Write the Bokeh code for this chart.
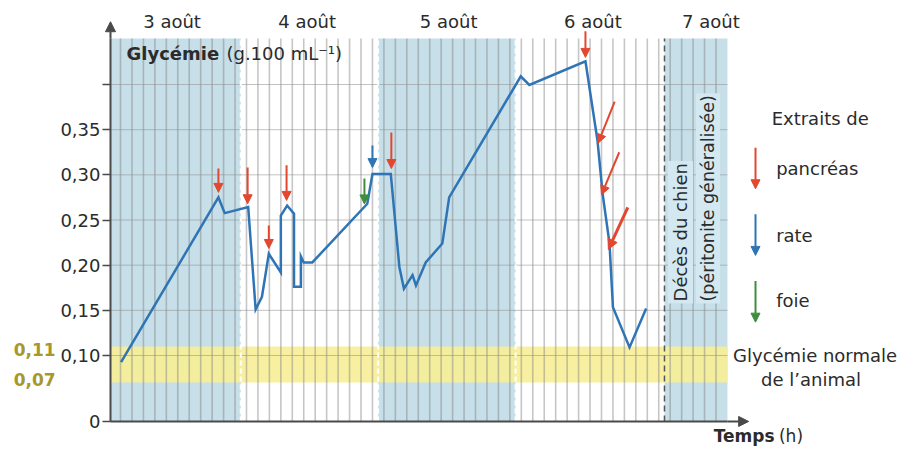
import math
from bokeh.plotting import figure
from bokeh.models import (Range1d, FixedTicker, CustomJSTickFormatter, Label, Arrow,
                          NormalHead, ColumnDataSource)
from bokeh.embed import file_html
from bokeh.resources import INLINE

# ---------------- data ----------------
# time in hours (axis origin at -1.75 h), blood glucose in g.100 mL-1
hours = [0.1, 17.1, 18.2, 22.3, 23.6, 24.7, 25.9, 28.0, 28.0, 29.1, 30.3, 30.3,
         31.5, 31.5, 32.0, 33.5, 43.1, 44.0, 47.2, 48.7, 49.5, 51.0, 51.6, 53.3,
         56.2, 57.4, 69.9, 71.4, 81.2, 83.3, 84.2, 85.4, 86.0, 88.9, 91.8]
glycemie = [0.0926, 0.275, 0.2576, 0.2643, 0.151, 0.165, 0.2126, 0.192, 0.255,
            0.266, 0.257, 0.176, 0.176, 0.2097, 0.203, 0.203, 0.268, 0.301, 0.301,
            0.198, 0.174, 0.189, 0.1775, 0.203, 0.224, 0.275, 0.409, 0.3995, 0.4257,
            0.338, 0.279, 0.224, 0.1535, 0.109, 0.152]

day_names = ["3 août", "4 août", "5 août", "6 août", "7 août"]
day_label_t = [9.0, 32.6, 57.3, 82.5, 103.1]
day_bounds = [21, 45, 69, 95]
shaded_start = [-1.75, 45, 95]
shaded_end = [21, 69, 106]
normal_low = 0.07
normal_high = 0.11
y_ticks = [0.027, 0.10, 0.15, 0.20, 0.25, 0.30, 0.35, 0.40]
y_grid = [0.10, 0.15, 0.20, 0.25, 0.30, 0.35, 0.40]
grid_t = list(range(0, 105, 2))

# injections of extracts (arrow tail -> tip)
panc_x0 = [17.1, 22.2, 25.9, 29.0, 47.3, 81.2, 86.3, 87.1]
panc_y0 = [0.307, 0.308, 0.244, 0.3105, 0.347, 0.459, 0.381, 0.325]
panc_x1 = [17.1, 22.2, 25.9, 29.0, 47.3, 81.2, 83.4, 84.0]
panc_y1 = [0.2806, 0.268, 0.2185, 0.2717, 0.307, 0.430, 0.335, 0.278]
panc_last_x0 = [88.6]
panc_last_y0 = [0.264]
panc_last_x1 = [85.2]
panc_last_y1 = [0.2174]
rate_x0 = [44.0]
rate_y0 = [0.3326]
rate_x1 = [44.0]
rate_y1 = [0.308]
foie_x0 = [42.6]
foie_y0 = [0.296]
foie_x1 = [42.6]
foie_y1 = [0.2678]

legend_names = ["pancréas", "rate", "foie"]
legend_arrow_t = 110.9
legend_y0 = [0.330, 0.2564, 0.1825]
legend_y1 = [0.2846, 0.2108, 0.1369]
legend_text_y = [0.307, 0.2328, 0.1609]

# ---------------- style ----------------
FONT = "DejaVu Sans"
TXT = "#2b2b2b"
BLUE_BG = "#c6dfe9"
RED = "#e2472f"
BLUE = "#2f75b5"
GREEN = "#3e8e3e"
OLIVE = "#a8982c"
AX = "#4a4a4a"

# chart area (axes extent)
x0, x1 = -1.75, 106
y0, y1 = 0.027, 0.451
# whole canvas in data units
view_x = (-20.96, 139.19)
view_y = (-0.00406, 0.4930)

p = figure(width=917, height=449, x_range=Range1d(*view_x), y_range=Range1d(*view_y),
           output_backend="svg", toolbar_location=None, title=None,
           min_border_left=0, min_border_right=0, min_border_top=0, min_border_bottom=0)
p.outline_line_color = None
p.background_fill_color = "white"
p.border_fill_color = "white"
p.xgrid.visible = False
p.ygrid.visible = False

# shaded days + normal band
p.quad(left=shaded_start, right=shaded_end, bottom=y0, top=y1,
       fill_color=BLUE_BG, line_color=None, level="image")
p.quad(left=[x0], right=[x1], bottom=[normal_low], top=[normal_high],
       fill_color="#f7ee96", fill_alpha=0.9, line_color=None, level="image")

# grid lines limited to the chart area
p.segment(x0=grid_t, y0=y0, x1=grid_t, y1=y1, line_color="#808080",
          line_alpha=0.45, line_width=1.6, level="underlay")
p.segment(x0=x0, y0=y_grid, x1=x1, y1=y_grid, line_color="#909090",
          line_alpha=0.55, line_width=1, level="underlay")

# day boundaries
p.segment(x0=day_bounds[:3], y0=y0, x1=day_bounds[:3], y1=y1, line_color="white",
          line_dash="5 3", line_width=2, level="underlay")
p.segment(x0=day_bounds[3:], y0=y0, x1=day_bounds[3:], y1=y1, line_color="#555555",
          line_dash="6 4", line_width=1.5, level="underlay")

# axes placed at the chart's origin
p.xaxis.fixed_location = y0
p.xaxis.bounds = (x0, x1)
p.xaxis.ticker = FixedTicker(ticks=[])
p.xaxis.major_tick_line_color = None
p.xaxis.minor_tick_line_color = None
p.xaxis.major_label_text_font_size = "0px"
p.xaxis.axis_line_color = AX
p.xaxis.axis_line_width = 2

p.yaxis.fixed_location = x0
p.yaxis.bounds = (y0, y1)
p.yaxis.ticker = FixedTicker(ticks=y_ticks)
p.yaxis.formatter = CustomJSTickFormatter(code="""
if (tick < 0.05) return '0';
if (tick > 0.375) return '';
return tick.toFixed(2).replace('.', ',');
""")
p.yaxis.minor_tick_line_color = None
p.yaxis.major_tick_in = 0
p.yaxis.major_tick_out = 8
p.yaxis.major_tick_line_color = AX
p.yaxis.major_tick_line_width = 1.5
p.yaxis.axis_line_color = AX
p.yaxis.axis_line_width = 2
p.yaxis.major_label_text_font = FONT
p.yaxis.major_label_text_font_size = "18px"
p.yaxis.major_label_text_color = TXT
p.yaxis.major_label_standoff = 2

# axis arrows
p.add_layout(Arrow(end=NormalHead(size=10, fill_color=AX, line_color=AX),
                   x_start=x0, y_start=y1, x_end=x0, y_end=0.4695,
                   line_color=AX, line_width=2))
p.add_layout(Arrow(end=NormalHead(size=10, fill_color=AX, line_color=AX),
                   x_start=x1, y_start=y0, x_end=109.7, y_end=y0,
                   line_color=AX, line_width=2))

# data line
p.line(hours, glycemie, line_color=BLUE, line_width=2.5, line_join="miter")


def add_arrows(xs0, ys0, xs1, ys1, color, width=2, head=9):
    src = ColumnDataSource(dict(x0=xs0, y0=ys0, x1=xs1, y1=ys1))
    p.add_layout(Arrow(end=NormalHead(size=head, fill_color=color, line_color=color),
                       x_start="x0", y_start="y0", x_end="x1", y_end="y1",
                       source=src, line_color=color, line_width=width))


add_arrows(panc_x0, panc_y0, panc_x1, panc_y1, RED)
add_arrows(panc_last_x0, panc_last_y0, panc_last_x1, panc_last_y1, RED, width=3, head=10)
add_arrows(rate_x0, rate_y0, rate_x1, rate_y1, BLUE)
add_arrows(foie_x0, foie_y0, foie_x1, foie_y1, GREEN)

# legend arrows
for yy0, yy1, c in zip(legend_y0, legend_y1, [RED, BLUE, GREEN]):
    add_arrows([legend_arrow_t], [yy0], [legend_arrow_t], [yy1], c)


def lab(x, y, text, align="left", bold=False, color=TXT, size="18px", angle=0, **kw):
    p.add_layout(Label(x=x, y=y, text=text, text_font=FONT, text_font_size=size,
                       text_color=color, text_align=align, text_baseline="middle",
                       text_font_style="bold" if bold else "normal", angle=angle, **kw))


lab(122.2, 0.3624, "Extraits de", align="center")
for name, ty in zip(legend_names, legend_text_y):
    lab(114.5, ty, name)
lab(121.3, 0.100, "Glycémie normale", align="center")
lab(120.6, 0.0734, "de l’animal", align="center")

for name, t in zip(day_names, day_label_t):
    lab(t, 0.4698, name, align="center")

lab(1.05, 0.4343, "Glycémie", bold=True)
lab(18.5, 0.4343, "(g.100 mL⁻¹)")

lab(-18.65, 0.1066, "0,11", bold=True, color=OLIVE, size="17px")
lab(-18.65, 0.0734, "0,07", bold=True, color=OLIVE, size="17px")

lab(103.6, 0.0114, "Temps", bold=True, size="17px")
lab(115.0, 0.0114, "(h)", size="17px")

lab(97.8, 0.1576, "Décès du chien", angle=math.pi / 2,
    background_fill_color="#d3e8f0", padding=2)
lab(102.6, 0.1576, "(péritonite généralisée)", angle=math.pi / 2, size="17.5px",
    background_fill_color="#d3e8f0", padding=2)

open("out.html", "w").write(file_html(p, INLINE))
